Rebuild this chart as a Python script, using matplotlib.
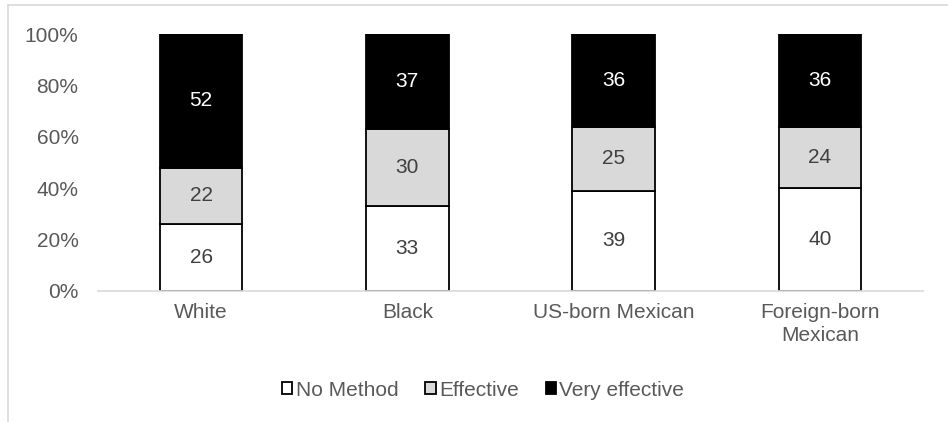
import numpy as np
import matplotlib.pyplot as plt
from matplotlib.lines import Line2D

plt.rcParams['font.family'] = ['Liberation Sans', 'DejaVu Sans']

# Data (percent)
groups = ['White', 'Black', 'US-born Mexican', 'Foreign-born\nMexican']
no_method = [26, 33, 39, 40]
effective = [22, 30, 25, 24]
very_effective = [52, 37, 36, 36]
series_names = ['No Method', 'Effective', 'Very effective']
fills = ['#ffffff', '#d9d9d9', '#000000']
label_colors = ['#404040', '#404040', '#ffffff']

W, H = 948, 422
fs = 15
fig = plt.figure(figsize=(W / 100, H / 100), dpi=100)
ax = fig.add_axes([98 / W, 1 - 291 / H, 825 / W, 257 / H])

x = np.arange(len(groups))
bottom = np.zeros(len(groups))
handles = []
for vals, name, fc, lc in zip([no_method, effective, very_effective], series_names, fills, label_colors):
    vals = np.array(vals, dtype=float)
    bars = ax.bar(x, vals, 0.40, bottom=bottom, color=fc, edgecolor='black',
                  linewidth=1.3, label=name)
    for b, v, b0 in zip(bars, vals, bottom):
        ax.text(b.get_x() + b.get_width() / 2, b0 + v / 2, f'{int(v)}',
                ha='center', va='center', fontsize=fs, color=lc)
    bottom += vals
    handles.append(bars)

ax.set_xlim(-0.5, len(groups) - 0.5)
ax.set_ylim(0, 100)
ax.set_yticks(range(0, 101, 20))
ax.set_yticklabels([f'{v}%' for v in range(0, 101, 20)])
ax.set_xticks(x)
ax.set_xticklabels(groups, linespacing=1.25)
ax.tick_params(length=0, labelsize=fs, colors='#595959')
ax.tick_params(axis='y', pad=14)
ax.tick_params(axis='x', pad=9)
for s in ['top', 'right', 'left']:
    ax.spines[s].set_visible(False)
ax.spines['bottom'].set_color('#d9d9d9')
ax.spines['bottom'].set_linewidth(1.2)

leg = fig.legend(handles=handles, labels=series_names, loc='center',
                 bbox_to_anchor=(483 / W, 1 - 390 / H), ncol=3, frameon=False,
                 fontsize=fs, handlelength=0.5, handleheight=0.5,
                 handletextpad=0.15, columnspacing=1.3)
for t in leg.get_texts():
    t.set_color('#595959')

# light gray chart border (top and left visible)
ytop = 1 - 5 / H
xl = 8 / W
fig.add_artist(Line2D([xl, 1.0], [ytop, ytop], color='#d9d9d9', lw=1.2, transform=fig.transFigure))
fig.add_artist(Line2D([xl, xl], [0, ytop], color='#d9d9d9', lw=1.2, transform=fig.transFigure))

fig.savefig('out.png', dpi=100)
